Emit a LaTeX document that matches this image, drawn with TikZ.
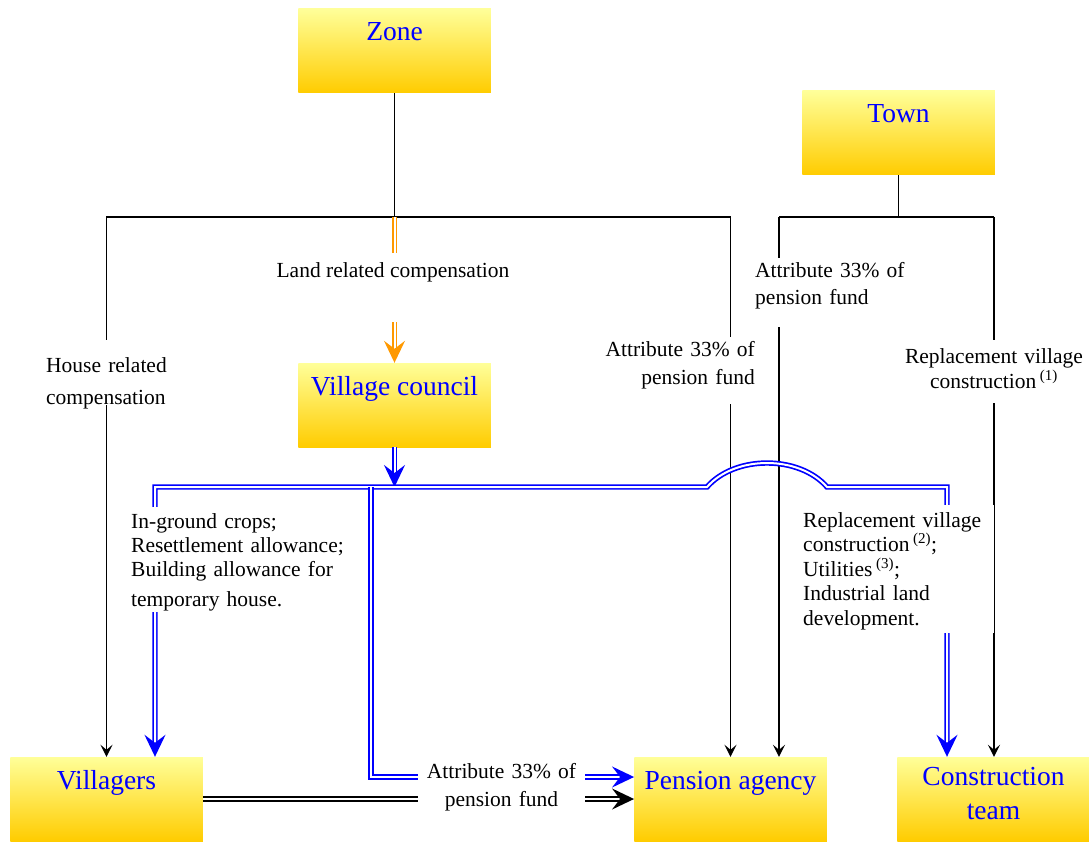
\documentclass[tikz,border=0pt]{standalone}
\usepackage{fontspec}
\setmainfont{Liberation Serif}
\usetikzlibrary{arrows.meta,calc}

\definecolor{boxtop}{RGB}{255,255,153}
\definecolor{boxbottom}{RGB}{255,204,0}
\definecolor{flowblue}{RGB}{0,0,255}
\definecolor{floworange}{RGB}{255,153,0}

\newcommand{\boxfont}{\fontsize{27.5}{34}\selectfont}
\newcommand{\lblfont}[1]{\fontsize{21.5}{#1}\selectfont}

\begin{document}
\begin{tikzpicture}[x=1pt, y=-1pt,
  orgbox/.style={rectangle, inner sep=0pt, draw=none,
    top color=boxtop, bottom color=boxbottom, text=flowblue,
    font=\boxfont, minimum width=192.5pt, text height=32pt, text depth=52pt},
  lbl/.style={fill=white, inner sep=0pt, text=black},
  wire/.style={draw=black, line width=1.3pt},
  smalltip/.style={-{Stealth[length=12pt,width=12pt,inset=5pt]}},
  dbl/.style={line width=1.7pt, double=white, double distance=2pt},
  dblblue/.style={dbl, draw=flowblue},
  dblorange/.style={dbl, draw=floworange},
  dblblack/.style={dbl, draw=black},
  bigtip/.style={-{Stealth[length=22pt,width=21pt,inset=8pt]}},
  bigtips/.style={{Stealth[length=22pt,width=21pt,inset=8pt]}-{Stealth[length=22pt,width=21pt,inset=8pt]}},
]
\useasboundingbox (0,0) rectangle (1089,842);

% organisations
\node[orgbox] (zone)      at (394.5,51)  {Zone};
\node[orgbox] (town)      at (898.5,133) {Town};
\node[orgbox] (vc)        at (394.5,405) {Village council};
\node[orgbox] (villagers) at (106.5,799) {Villagers};
\node[orgbox] (pension)   at (730.5,799) {Pension agency};
\node[orgbox, text width=192.5pt, align=center, text height=28pt, text depth=56pt]
  (cteam) at (993.5,799) {Construction\\team};

% junction points
\coordinate (j0) at (394.5,217);
\coordinate (tj) at (898.5,217);
\coordinate (tL) at (779,217);
\coordinate (tR) at (994,217);
\coordinate (bus) at (394.5,487);
\coordinate (bL) at (155,487);
\coordinate (bA) at (371,487);
\coordinate (bR) at (947,487);
\coordinate (h1) at (707,487);
\coordinate (h2) at (827,487);
\coordinate (pBlue) at ($(pension.west)+(0,-22)$);

% zone payments
\draw[wire] (zone.south) -- (j0);
\draw[wire, smalltip] (j0) -| (villagers.north);
\draw[wire, smalltip] (j0) -| (pension.north);
\draw[dblorange, bigtip] (j0) -- (vc.north);

% town payments
\draw[wire] (town.south) -- (tj);
\draw[wire] (tL) -- (tR);
\draw[wire, smalltip] (tL) -- (tL |- pension.north);
\draw[wire, smalltip] (tR) -- (tR |- cteam.north);

% village council distribution
\draw[dblblue, bigtip] (vc.south) -- (bus);
\draw[dblblue, bigtips] (bL |- villagers.north) -- (bL) -- (h1)
  .. controls (735,455) and (799,455) .. (h2) -- (bR) -- (bR |- cteam.north);
\draw[dblblue, bigtip] (bA) |- (pBlue);
\draw[dblblack, bigtip] (villagers.east) -- (pension.west);

% labels
\node[lbl, anchor=base, inner xsep=3pt, text height=24pt, text depth=45pt,
  font=\lblfont{26}] (landlbl) at (393,277) {Land related compensation};
\node[lbl, anchor=base west, text width=125pt, align=left,
  text height=32pt, text depth=33pt, font=\lblfont{32}]
  (houselbl) at (46,372) {House related\\compensation};
\node[lbl, anchor=base east, text width=150pt, align=right,
  text height=19pt, text depth=48pt, font=\lblfont{28}]
  (zonepens) at (755,356) {Attribute 33\% of\\pension fund};
\node[lbl, anchor=base west, text width=150pt, align=left,
  text height=20pt, text depth=49pt, font=\lblfont{27}]
  (townpens) at (755,278) {Attribute 33\% of\\pension fund};
\node[lbl, anchor=base, text width=180pt, align=center,
  text height=23pt, text depth=40pt, font=\lblfont{25}]
  (townrepl) at (994,363) {Replacement village\\construction\,\textsuperscript{(1)}};
\node[lbl, anchor=base west, text width=220pt, align=left,
  text height=21pt, text depth=84pt, font=\lblfont{24}]
  (cropslbl) at (131,528) {In-ground crops;\\Resettlement allowance;\\Building allowance for\\[6pt]temporary house.};
\node[lbl, anchor=base west, text width=191pt, align=left,
  text height=22pt, text depth=106pt, font=\lblfont{24.5}]
  (vcrepl) at (803,527) {Replacement village\\construction\,\textsuperscript{(2)};\\Utilities\,\textsuperscript{(3)};\\Industrial land\\development.};
\node[lbl, anchor=base, text width=167pt, align=center,
  text height=20pt, text depth=36pt, font=\lblfont{28}]
  (villpens) at (501.5,778) {Attribute 33\% of\\pension fund};
\end{tikzpicture}
\end{document}
